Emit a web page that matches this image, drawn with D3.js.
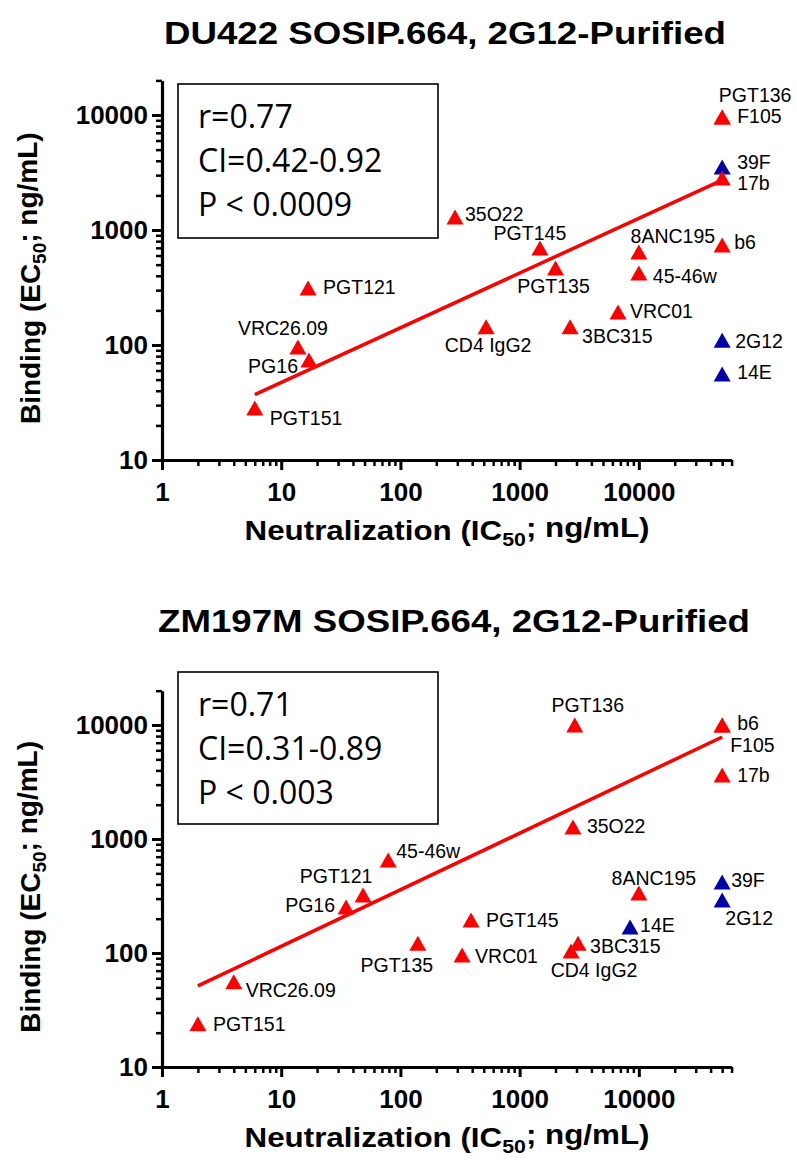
<!DOCTYPE html>
<html><head><meta charset="utf-8">
<script src="https://cdn.jsdelivr.net/npm/d3@7"></script>
<style>body{margin:0;background:#fff} svg{display:block}</style>
</head><body>
<svg id="c" width="797" height="1163"></svg>
<script>
// ---------- data ----------
const antibodies = ["PGT136","F105","39F","17b","35O22","PGT145","8ANC195","b6","PGT135","45-46w","VRC01","CD4 IgG2","3BC315","2G12","14E","PGT121","VRC26.09","PG16","PGT151"];
const blueAntibodies = ["39F","2G12","14E"];

const du422IC50 = [50000,50000,50000,50000,287,1480,10000,50000,2000,10000,6690,523,2650,50000,50000,16.8,13.8,17.1,6.0];
const du422EC50 = [9600,9600,3530,2830,1300,697,644,741,468,423,194,144,144,110,56,313,96,74,28.3];
const du422FitX = [6,50000];
const du422FitY = [37,2720];
const du422Stats = ["r=0.77","CI=0.42-0.92","P < 0.0009"];

const zm197IC50 = [2900,50000,50000,50000,2800,391,10000,50000,140,79,329,2700,3090,50000,8440,48.6,4,35,2];
const zm197EC50 = [10000,10000,420,3640,1274,195,336,10000,122,655,96,104,122,292,169,323,56,253,24];
const zm197FitX = [2,50000];
const zm197FitY = [51.4,7850];
const zm197Stats = ["r=0.71","CI=0.31-0.89","P < 0.003"];

const xTickValues = [1,10,100,1000,10000];
const xTickLabels = ["1","10","100","1000","10000"];
const yTickValues = [10,100,1000,10000];
const yTickLabels = ["10","100","1000","10000"];
const xDomain = [1,60000];
const yDomain = [10,20000];

// ---------- layout (label placement relative to marker) ----------
const du422LabelPos = {
  "PGT136":[33,-15,"middle"],"F105":[15,6,"start"],"39F":[15,2,"start"],"17b":[15,12,"start"],
  "35O22":[10,4,"start"],"PGT145":[-10,-8,"middle"],"8ANC195":[34,-9,"middle"],"b6":[12,4,"start"],
  "PGT135":[-2,25,"middle"],"45-46w":[14,10,"start"],"VRC01":[12,6,"start"],"CD4 IgG2":[2,25,"middle"],
  "3BC315":[12,16,"start"],"2G12":[13,8,"start"],"14E":[15,5,"start"],"PGT121":[15,6,"start"],
  "VRC26.09":[-15,-12,"middle"],"PG16":[-11,13,"end"],"PGT151":[15,17,"start"]
};
const zm197LabelPos = {
  "PGT136":[13,-13,"middle"],"b6":[15,5,"start"],"F105":[8,27,"start"],"17b":[15,7,"start"],
  "35O22":[14,6,"start"],"8ANC195":[15,-8,"middle"],"39F":[9,5,"start"],"2G12":[27,25,"middle"],
  "PGT145":[15,7,"start"],"14E":[10,5,"start"],"VRC01":[13,8,"start"],"3BC315":[12,10,"start"],
  "CD4 IgG2":[23,26,"middle"],"45-46w":[8,-2,"start"],"PGT121":[-27,-12,"middle"],"PG16":[-11,5,"end"],
  "PGT135":[-21,29,"middle"],"VRC26.09":[12,15,"start"],"PGT151":[15,7,"start"]
};

const charts = [
  {title:"DU422 SOSIP.664, 2G12-Purified", titleX:445, titleW:562, titleY:44, ic50:du422IC50, ec50:du422EC50, fitX:du422FitX, fitY:du422FitY,
   stats:du422Stats, yTop:80.4, yBottom:460, box:[178,84,260,154], labels:du422LabelPos},
  {title:"ZM197M SOSIP.664, 2G12-Purified", titleX:454, titleW:592, titleY:632, ic50:zm197IC50, ec50:zm197EC50, fitX:zm197FitX, fitY:zm197FitY,
   stats:zm197Stats, yTop:690.7, yBottom:1067, box:[178,672,260,152], labels:zm197LabelPos}
];

const RED = "#ff0000", BLUE = "#0000a8";
const svg = d3.select("#c");
const X0 = 162, X1 = 731.6;
const boldFont = "'Liberation Sans', Arial, sans-serif";

function tri(cx, cy){ const w=17, h=15; return `M${cx},${cy-h/2}L${cx+w/2},${cy+h/2}L${cx-w/2},${cy+h/2}Z`; }

function addSubTitle(sel, pre, post){
  sel.append("tspan").text(pre);
  sel.append("tspan").attr("font-size","0.68em").attr("dy","0.3em").text("50");
  sel.append("tspan").attr("dy","-0.3em").text(post);
}

charts.forEach(ch => {
  const x = d3.scaleLog().domain(xDomain).range([X0, X1]);
  const y = d3.scaleLog().domain(yDomain).range([ch.yBottom, ch.yTop]);
  const g = svg.append("g");

  // title
  g.append("text").attr("x",ch.titleX).attr("y",ch.titleY).attr("text-anchor","middle")
    .attr("font-family",boldFont).attr("font-weight","bold").attr("font-size",31)
    .attr("textLength",ch.titleW).attr("lengthAdjust","spacingAndGlyphs").text(ch.title);

  // minor ticks
  const minorX = x.ticks().filter(v => Math.abs(Math.log10(v)%1) > 1e-6);
  const minorY = y.ticks().filter(v => Math.abs(Math.log10(v)%1) > 1e-6);
  g.append("g").attr("transform",`translate(0,${ch.yBottom})`)
    .call(d3.axisBottom(x).tickValues(minorX).tickSize(6).tickSizeOuter(0).tickFormat(""))
    .call(s=>{s.select(".domain").remove(); s.selectAll("line").attr("stroke","#000").attr("stroke-width",2.5);});
  g.append("g").attr("transform",`translate(${X0},0)`)
    .call(d3.axisLeft(y).tickValues(minorY).tickSize(6).tickSizeOuter(0).tickFormat(""))
    .call(s=>{s.select(".domain").remove(); s.selectAll("line").attr("stroke","#000").attr("stroke-width",2.5);});

  // major axes
  const xa = g.append("g").attr("transform",`translate(0,${ch.yBottom})`)
    .call(d3.axisBottom(x).tickValues(xTickValues).tickFormat((d,i)=>xTickLabels[i]).tickSize(10).tickSizeOuter(0).tickPadding(13));
  const ya = g.append("g").attr("transform",`translate(${X0},0)`)
    .call(d3.axisLeft(y).tickValues(yTickValues).tickFormat((d,i)=>yTickLabels[i]).tickSize(10).tickSizeOuter(0).tickPadding(4));
  [xa,ya].forEach(a=>{
    a.select(".domain").attr("stroke","#000").attr("stroke-width",3.2);
    a.selectAll("line").attr("stroke","#000").attr("stroke-width",3);
    a.selectAll("text").attr("font-family",boldFont).attr("font-weight","bold").attr("font-size",26).attr("fill","#000");
  });

  // axis titles
  const xt = g.append("text").attr("x",447).attr("y",ch.yBottom+80).attr("text-anchor","middle")
    .attr("font-family",boldFont).attr("font-weight","bold").attr("font-size",28)
    .attr("textLength",405).attr("lengthAdjust","spacingAndGlyphs");
  addSubTitle(xt,"Neutralization (IC","; ng/mL)");
  const cy = (ch.yTop+ch.yBottom)/2 + 8;
  const yt = g.append("text").attr("transform",`translate(40,${cy}) rotate(-90)`).attr("text-anchor","middle")
    .attr("font-family",boldFont).attr("font-weight","bold").attr("font-size",28);
  addSubTitle(yt,"Binding (EC","; ng/mL)");

  // stats box
  const [bx,by,bw,bh] = ch.box;
  g.append("rect").attr("x",bx).attr("y",by).attr("width",bw).attr("height",bh)
    .attr("fill","#fff").attr("stroke","#000").attr("stroke-width",1.6);
  g.selectAll(".stat").data(ch.stats).join("text")
    .attr("x",bx+20).attr("y",(d,i)=>by+44+i*44)
    .attr("font-family","'Open Sans', sans-serif").attr("font-size",32).attr("fill","#000").text(d=>d);

  // points
  const pts = antibodies.map((name,i)=>({name, ic:ch.ic50[i], ec:ch.ec50[i], blue: blueAntibodies.includes(name)}));
  const ordered = pts.filter(p=>p.blue).concat(pts.filter(p=>!p.blue));
  g.selectAll(".pt").data(ordered).join("path")
    .attr("d",d=>tri(x(d.ic), y(d.ec))).attr("fill",d=>d.blue?BLUE:RED);

  // fit line
  g.append("path").datum(ch.fitX.map((v,i)=>[v,ch.fitY[i]]))
    .attr("d",d3.line().x(d=>x(d[0])).y(d=>y(d[1])))
    .attr("stroke",RED).attr("stroke-width",3.5).attr("fill","none");

  // labels
  g.selectAll(".lbl").data(pts).join("text")
    .attr("x",d=>x(d.ic)+ch.labels[d.name][0]).attr("y",d=>y(d.ec)+ch.labels[d.name][1])
    .attr("text-anchor",d=>ch.labels[d.name][2])
    .attr("font-family","'Liberation Sans', Arial, sans-serif").attr("font-size",19.5).attr("fill","#000")
    .text(d=>d.name);
});
</script>
</body></html>
